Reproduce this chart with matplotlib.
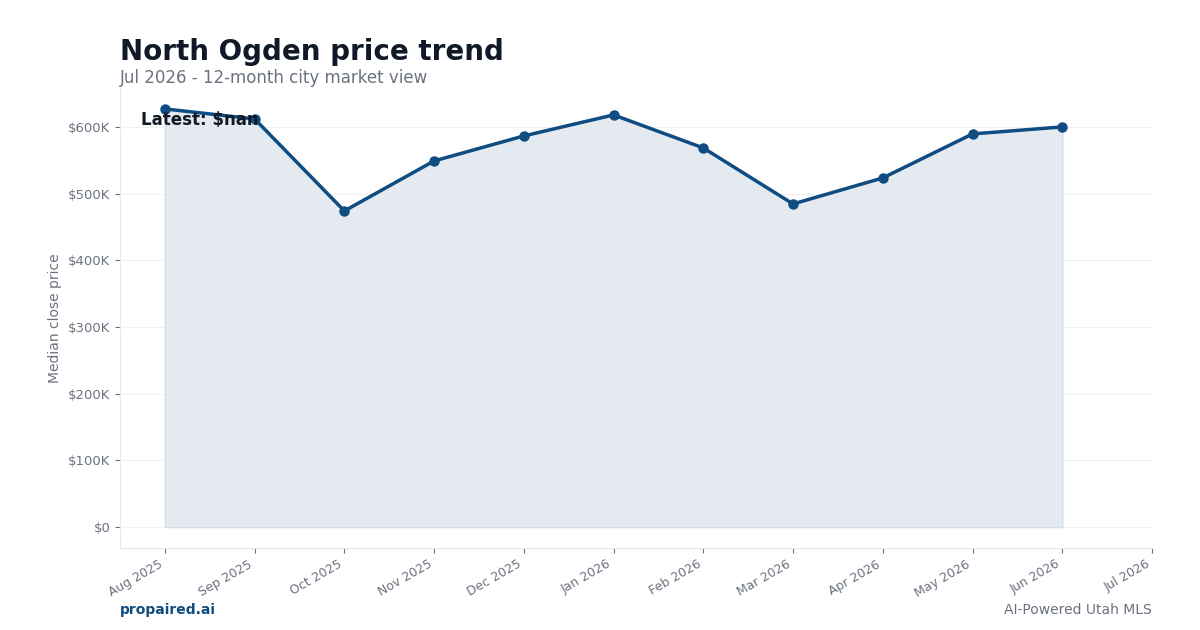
import numpy as np
import matplotlib
matplotlib.use("Agg")
import matplotlib.pyplot as plt
from matplotlib.ticker import FuncFormatter

# Monthly median close price (USD); Jul 2026 not yet reported
months = ["Aug 2025", "Sep 2025", "Oct 2025", "Nov 2025", "Dec 2025", "Jan 2026",
          "Feb 2026", "Mar 2026", "Apr 2026", "May 2026", "Jun 2026", "Jul 2026"]
prices = [627000, 612000, 474000, 549000, 586500, 618000,
          568500, 484500, 523500, 589500, 600000, np.nan]

title = "North Ogden price trend"
subtitle = "Jul 2026 - 12-month city market view"

navy = "#0f4c81"
dark = "#111827"
gray = "#6b7280"
light = "#e5e7eb"

fig = plt.figure(figsize=(12, 6.3), dpi=100)
ax = fig.add_axes([0.1, 0.1302, 0.86, 0.7301])

x = np.arange(len(months))
vals = np.array(prices, dtype=float)
ok = ~np.isnan(vals)
ax.fill_between(x[ok], vals[ok], 0, color="#e5eaf1", edgecolor="#d3dce8", linewidth=1)
ax.plot(x, vals, color=navy, linewidth=2.5, marker="o", markersize=6.5)

ax.set_xlim(-0.5, len(months) - 1)
ax.set_xticks(x)
ax.set_xticklabels(months, rotation=30, ha="right")

ax.yaxis.set_major_formatter(FuncFormatter(lambda v, p: "$0" if v == 0 else f"${v/1000:.0f}K"))
ax.set_ylabel("Median close price", color=gray, fontsize=10)
ax.grid(axis="y", color="#f0f1f3", linewidth=0.8)
ax.set_axisbelow(True)
ax.tick_params(colors=gray, labelsize=9.5)
ax.tick_params(axis="x", labelsize=9)
for s in ["top", "right"]:
    ax.spines[s].set_visible(False)
for s in ["left", "bottom"]:
    ax.spines[s].set_color(light)

latest = vals[-1]
ax.text(0.02, 0.951, f"Latest: ${latest:,.0f}" if not np.isnan(latest) else "Latest: $nan",
        transform=ax.transAxes, fontsize=12, fontweight="bold", color=dark, va="top")

fig.text(0.1, 0.918, title, fontsize=20, fontweight="bold", color=dark, va="center")
fig.text(0.1, 0.876, subtitle, fontsize=12, color=gray, va="center")
fig.text(0.1, 0.032, "propaired.ai", fontsize=10, fontweight="bold", color=navy, va="center")
fig.text(0.96, 0.032, "AI-Powered Utah MLS", fontsize=10, color=gray, va="center", ha="right")

fig.savefig("out.png", dpi=100)
